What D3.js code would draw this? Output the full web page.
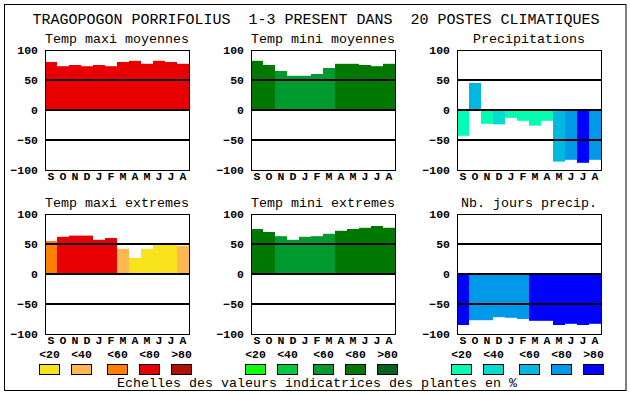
<!DOCTYPE html>
<html><head><meta charset="utf-8">
<script src="https://cdn.jsdelivr.net/npm/d3@7/dist/d3.min.js"></script>
<style>
html,body{margin:0;padding:0;background:#fff;}
svg{display:block;}
text{font-family:"Liberation Mono","DejaVu Sans Mono",monospace;white-space:pre;}
</style></head>
<body>
<script>
// ---- data ----
const mainTitle = "TRAGOPOGON PORRIFOLIUS  1-3 PRESENT DANS  20 POSTES CLIMATIQUES";
const footer = "Echelles des valeurs indicatrices des plantes en %";
const months = ["S","O","N","D","J","F","M","A","M","J","J","A"];
const yTicks = [100, 50, 0, -50, -100];
const gridValues = [50, 0, -50];
const legendLabels = ["<20","<40","<60","<80",">80"];

const reds   = ["#f8e31c","#ffb850","#ff7f00","#e80000","#b01000"];
const greens = ["#10ff10","#00c83c","#009a2e","#007800","#006020"];
const blues  = ["#00ffb0","#00ddd0","#00b8e0","#0098e8","#0000ff"];

const panelTitles = ["Temp maxi moyennes","Temp mini moyennes","Precipitations",
                     "Temp maxi extremes","Temp mini extremes","Nb. jours precip."];
const panelScales = [reds, greens, blues, reds, greens, blues];

const tmaxMoy   = [80, 73, 75, 73, 75, 73, 80, 82, 77, 82, 80, 77];
const tmaxMoyC  = [3, 3, 3, 3, 3, 3, 3, 3, 3, 3, 3, 3];
const tminMoy   = [82, 75, 65, 57, 57, 60, 70, 77, 77, 75, 73, 77];
const tminMoyC  = [3, 3, 2, 2, 2, 2, 2, 3, 3, 3, 3, 3];
const precip    = [-43, 45, -23, -24, -13, -18, -26, -18, -86, -83, -88, -83];
const precipC   = [0, 2, 0, 1, 0, 0, 0, 0, 2, 3, 4, 3];
const tmaxExt   = [55, 62, 64, 64, 57, 60, 42, 27, 42, 49, 49, 47];
const tmaxExtC  = [2, 3, 3, 3, 3, 3, 1, 0, 0, 0, 0, 1];
const tminExt   = [75, 70, 63, 57, 62, 63, 67, 72, 75, 77, 80, 77];
const tminExtC  = [3, 3, 2, 2, 2, 2, 2, 3, 3, 3, 3, 3];
const nbJours   = [-85, -77, -77, -72, -73, -75, -78, -78, -85, -83, -85, -83];
const nbJoursC  = [4, 3, 3, 3, 3, 3, 4, 4, 4, 4, 4, 4];

const panelValues = [tmaxMoy, tminMoy, precip, tmaxExt, tminExt, nbJours];
const panelClasses = [tmaxMoyC, tminMoyC, precipC, tmaxExtC, tminExtC, nbJoursC];

// ---- layout ----
const W = 630, H = 394;
const pw = 144, ph = 120;
const svg = d3.select("body").append("svg").attr("width", W).attr("height", H);

svg.append("rect").attr("x", 4.5).attr("y", 4.5).attr("width", 621.5).attr("height", 386)
  .attr("fill", "none").attr("stroke", "#000").attr("stroke-width", 1);

svg.append("text").attr("x", 316).attr("y", 24).attr("text-anchor", "middle")
  .attr("xml:space", "preserve")
  .attr("font-size", "15px").attr("fill", "#000").text(mainTitle);

const x = d3.scaleBand().domain(d3.range(months.length)).range([0, pw]).padding(0);
const y = d3.scaleLinear().domain([-100, 100]).range([ph, 0]);

const smallFont = "11.5px";

panelTitles.forEach((title, i) => {
  const col = i % 3, row = Math.floor(i / 3);
  const left = 45 + col * 206, top = 50 + row * 164;
  const g = svg.append("g").attr("transform", `translate(${left},${top})`);
  const vals = panelValues[i], cls = panelClasses[i], sc = panelScales[i];

  g.append("text").attr("x", pw / 2).attr("y", -7).attr("text-anchor", "middle")
    .attr("font-size", "13.33px").attr("fill", "#000").text(title);

  g.selectAll("rect.bar").data(vals).enter().append("rect").attr("class", "bar")
    .attr("x", (d, j) => x(j))
    .attr("width", x.bandwidth())
    .attr("y", d => y(Math.max(0, d)))
    .attr("height", d => Math.abs(y(d) - y(0)))
    .attr("fill", (d, j) => sc[cls[j]]);

  g.selectAll("line.grid").data(gridValues).enter().append("line").attr("class", "grid")
    .attr("x1", 0).attr("x2", pw).attr("y1", d => y(d)).attr("y2", d => y(d))
    .attr("stroke", "#000").attr("stroke-width", 2);

  g.append("rect").attr("x", 0.5).attr("y", 0.5).attr("width", pw).attr("height", ph)
    .attr("fill", "none").attr("stroke", "#000").attr("stroke-width", 1);

  const ya = g.append("g").call(d3.axisLeft(y).tickValues(yTicks).tickSize(0).tickPadding(7));
  ya.select(".domain").remove();
  ya.attr("font-family", null).attr("font-size", null);
  ya.selectAll("text").attr("font-size", smallFont).attr("font-weight", "bold").attr("fill", "#000");

  const xa = g.append("g").attr("transform", `translate(0,${ph})`)
    .call(d3.axisBottom(x).tickSize(0).tickPadding(2).tickFormat(j => months[j]));
  xa.select(".domain").remove();
  xa.attr("font-family", null).attr("font-size", null);
  xa.selectAll("text").attr("font-size", smallFont).attr("font-weight", "bold").attr("fill", "#000");
});

// legend
const legendOffsets = [-6, 26, 62, 94, 126];
[reds, greens, blues].forEach((sc, col) => {
  const left = 45 + col * 206;
  const lg = svg.append("g");
  legendLabels.forEach((lab, k) => {
    const bx = left + legendOffsets[k];
    lg.append("rect").attr("x", bx + 0.5).attr("y", 364.5).attr("width", 20).attr("height", 10)
      .attr("fill", sc[k]).attr("stroke", "#000").attr("stroke-width", 1);
    lg.append("text").attr("x", bx + 10.5).attr("y", 357.5).attr("text-anchor", "middle")
      .attr("font-size", smallFont).attr("font-weight", "bold").attr("fill", "#000").text(lab);
  });
});

svg.append("text").attr("x", 317).attr("y", 387).attr("text-anchor", "middle")
  .attr("font-size", "13.33px").attr("fill", "#000").text(footer);
</script>
</body></html>
